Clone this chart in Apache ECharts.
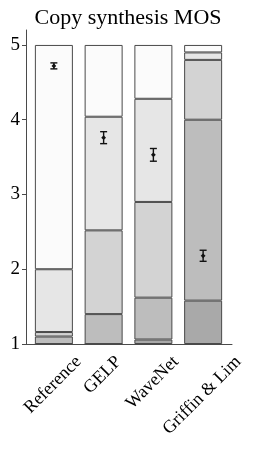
<!DOCTYPE html>
<html><head><meta charset="utf-8">
<script src="https://cdn.jsdelivr.net/npm/echarts@6/dist/echarts.min.js"></script>
<style>html,body{margin:0;padding:0;background:#fff}#c{width:256px;height:449px}</style>
</head><body><div id="c"></div>
<script>
const categories = ['Reference', 'GELP', 'WaveNet', 'Griffin & Lim'];
// percentage of ratings per score (1..5)
const rating1 = [0, 0, 1.5, 14.5];
const rating2 = [2.5, 10, 14, 60.5];
const rating3 = [1.5, 28, 32, 20];
const rating4 = [21, 38, 34.5, 2.5];
const rating5 = [75, 24, 18, 2.5];
const means = [4.72, 3.76, 3.53, 2.18];
const ciHalf = [0.04, 0.08, 0.085, 0.074];
const yTicks = [1, 2, 3, 4, 5];

const ratings = [rating1, rating2, rating3, rating4, rating5];
const colors = ['#a9a9a9', '#bdbdbd', '#d3d3d3', '#e6e6e6', '#fbfbfb'];
const serif = 'Liberation Serif';
const labelSize = 18;
const axisColor = '#4a4a4a';

const series = [{
  type: 'bar', stack: 's', barWidth: 38, silent: true,
  data: categories.map(() => 1),
  itemStyle: { color: 'transparent', borderWidth: 0 }
}];
ratings.forEach((r, k) => {
  series.push({
    type: 'bar', stack: 's', barWidth: 38,
    data: r.map(v => v / 100 * 4),
    itemStyle: { color: colors[k], borderColor: axisColor, borderWidth: 1 }
  });
});
series.push({
  type: 'custom',
  data: means.map((m, i) => [i, m, m - ciHalf[i], m + ciHalf[i]]),
  z: 10,
  renderItem: function (params, api) {
    const x = api.value(0);
    const p = api.coord([x, api.value(1)]);
    const lo = api.coord([x, api.value(2)]);
    const hi = api.coord([x, api.value(3)]);
    const hw = 3.5;
    const st = { stroke: '#111', lineWidth: 1.4 };
    return { type: 'group', children: [
      { type: 'line', shape: { x1: p[0], y1: lo[1], x2: p[0], y2: hi[1] }, style: st },
      { type: 'line', shape: { x1: p[0] - hw, y1: lo[1], x2: p[0] + hw, y2: lo[1] }, style: st },
      { type: 'line', shape: { x1: p[0] - hw, y1: hi[1], x2: p[0] + hw, y2: hi[1] }, style: st },
      { type: 'polygon', shape: { points: [[p[0], p[1] - 2.4], [p[0] + 2.4, p[1]], [p[0], p[1] + 2.4], [p[0] - 2.4, p[1]]] }, style: { fill: '#111' } }
    ]};
  }
});

const chart = echarts.init(document.getElementById('c'), null, { renderer: 'canvas' });
chart.setOption({
  animation: false,
  title: { text: 'Copy synthesis MOS', left: 'center', top: 2,
    textStyle: { fontFamily: serif, fontSize: 22, fontWeight: 'normal', color: '#000' } },
  grid: [
    { left: 29, right: 28, top: 30, bottom: 105, containLabel: false },
    { left: 26, right: 24, top: 30, bottom: 105, containLabel: false }
  ],
  xAxis: [{
    type: 'category', data: categories, gridIndex: 0,
    axisLine: { show: false },
    axisTick: { alignWithLabel: true, length: 4, lineStyle: { color: axisColor } },
    axisLabel: { show: false }
  }, {
    type: 'value', gridIndex: 1, min: 0, max: 1,
    splitLine: { show: false }, axisTick: { show: false }, axisLabel: { show: false },
    axisLine: { show: true, onZero: false, lineStyle: { color: axisColor, width: 1 } }
  }],
  yAxis: [{
    type: 'value', gridIndex: 0, min: 1, max: 5.2, offset: 3,
    splitLine: { show: false },
    axisLine: { show: true, onZero: false, lineStyle: { color: axisColor, width: 1 } },
    axisTick: { show: true, length: 4, customValues: yTicks, lineStyle: { color: axisColor } },
    axisLabel: { customValues: yTicks, fontFamily: serif, fontSize: 19, color: '#000', margin: 6 }
  }, {
    type: 'value', gridIndex: 1, min: 0, max: 1, show: false
  }],
  series: series
});

// rotated category labels, centred under each tick with their boxes top-aligned
const axisY = chart.convertToPixel({ yAxisIndex: 0 }, 1);
const font = labelSize + 'px "' + serif + '"';
const graphics = categories.map((c, i) => {
  const x = chart.convertToPixel({ xAxisIndex: 0 }, i);
  const w = new echarts.graphic.Text({ style: { text: c, font: font } }).getBoundingRect().width;
  const half = (w + labelSize * 0.8) * Math.SQRT1_2 / 2;
  return {
    type: 'text', x: x - 1, y: axisY + 10 + half, rotation: Math.PI / 4,
    style: { text: c, font: font, fill: '#000', align: 'center', verticalAlign: 'middle' }
  };
});
chart.setOption({ graphic: graphics });
</script></body></html>
